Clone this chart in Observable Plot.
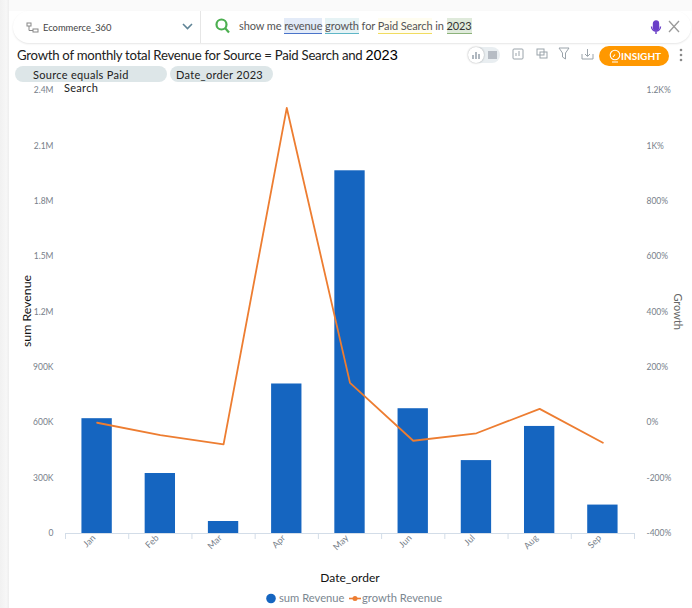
<!DOCTYPE html>
<html>
<head>
<meta charset="utf-8">
<script src="https://cdn.jsdelivr.net/npm/d3@7"></script>
<script src="https://cdn.jsdelivr.net/npm/@observablehq/plot@0.6"></script>
<style>
html,body{margin:0;padding:0;background:#fff;width:692px;height:608px;overflow:hidden;font-family:Lato,sans-serif;}
#page{position:relative;width:692px;height:608px;}
#edge{position:absolute;left:0;top:0;width:9px;height:608px;background:linear-gradient(90deg,#f1f1f1,#f7f7f7 70%,#eeeeee);}
#top{position:absolute;left:9px;top:0;width:683px;height:11px;background:#fafafa;}
#bar{position:absolute;left:13px;top:11px;width:678px;height:32px;background:#fff;border-radius:16px;box-shadow:0 1px 2px rgba(0,0,0,.1);}
#divider{position:absolute;left:200px;top:11px;width:1px;height:32px;background:#e6e6e6;}
.a{position:absolute;white-space:nowrap;}
#ds{left:43px;top:22px;font-size:9.4px;color:#444;}
#caret{left:182px;top:22px;}
#query{left:239px;top:19px;font-size:11px;letter-spacing:-.1px;color:#555;}
#query span{padding:1px 0;}
#title{left:17px;top:47px;font-size:13.2px;letter-spacing:-.27px;color:#222;}
#title b{font-weight:400;font-size:14.5px;letter-spacing:0;font-family:"Liberation Sans",sans-serif;color:#000;}
.chip{position:absolute;top:66px;height:16px;background:#dde6e8;border-radius:8px;}
.chiptext{position:absolute;font-size:11px;line-height:11px;letter-spacing:.3px;color:#222;white-space:nowrap;}
#insight{left:599px;top:46px;width:70px;height:20px;background:#ff9800;border-radius:10px;color:#fff;font-size:10px;font-weight:700;line-height:20px;text-indent:22px;}
#toggle{left:468px;top:47px;width:32px;height:16px;background:#e9eef1;border-radius:8px;}
#knob{left:468px;top:47px;width:16px;height:16px;background:#fff;border-radius:8px;box-shadow:0 0 2px rgba(0,0,0,.35);}
#chart{position:absolute;left:0;top:80px;}
#legend{position:absolute;left:0;top:590px;width:692px;height:18px;}
#legend .t{position:absolute;top:1px;font-size:11.2px;color:#7b8791;white-space:nowrap;}
</style>
</head>
<body>
<div id="page">
  <div id="edge"></div><div id="top"></div>
  <div id="bar"></div><div id="divider"></div>
  <svg class="a" style="left:26px;top:22px" width="13" height="12" fill="none" stroke="#888" stroke-width="1"><rect x="1" y="1" width="4" height="3"/><rect x="7" y="7" width="5" height="3"/><path d="M3 4V8.5H7"/></svg>
  <div class="a" id="ds">Ecommerce_360</div>
  <svg class="a" id="caret" width="11" height="9" fill="none" stroke="#5f8496" stroke-width="1.6"><path d="M1 2L5.5 6.5L10 2"/></svg>
  <svg class="a" style="left:215px;top:18px" width="15" height="16" fill="none" stroke="#4caf50" stroke-width="2.2"><circle cx="6.5" cy="6.5" r="5"/><path d="M10 10L14 14.5"/></svg>
  <div class="a" id="query">show me <span style="background:#e3ebf8;border-bottom:1px solid #4a74c9">revenue</span> <span style="background:#e6f3f5;border-bottom:1px solid #5fb6c7">growth</span> for <span style="background:#fffdf0;border-bottom:1px solid #f1dc5f">Paid Search</span> in <span style="background:#dfeadb;border-bottom:1px solid #8cb27a;color:#333">2023</span></div>
  <svg class="a" style="left:649px;top:20px" width="14" height="16" fill="none" stroke="#6a3fc8" stroke-width="1.4"><rect x="4.5" y="1" width="5" height="9" rx="2.5" fill="#6a3fc8"/><path d="M2.5 6.5a4.5 4.5 0 0 0 9 0M7 11v3"/></svg>
  <svg class="a" style="left:668px;top:20px" width="12" height="13" fill="none" stroke="#9a9a9a" stroke-width="1.3"><path d="M1 1L11 12M11 1L1 12"/></svg>
  <div class="a" id="title">Growth of monthly total Revenue for Source = Paid Search and <b>2023</b></div>
  <div class="a" id="toggle"></div><div class="a" id="knob"></div>
  <svg class="a" style="left:472px;top:51px" width="8" height="8" fill="#b0b8c0"><rect x="0" y="4" width="2" height="4"/><rect x="3" y="1" width="2" height="7"/><rect x="6" y="3" width="2" height="5"/></svg>
  <svg class="a" style="left:488px;top:51px" width="9" height="8" fill="#b6bcc4"><rect width="9" height="8"/></svg>
  <svg class="a" style="left:512px;top:48px" width="13" height="13" fill="none" stroke="#9aa3aa"><rect x="1" y="1" width="10" height="10" rx="1"/><path d="M4 8V5M7 8V3"/></svg>
  <svg class="a" style="left:536px;top:48px" width="12" height="12" fill="none" stroke="#9aa3aa"><rect x="1" y="1" width="7" height="6"/><rect x="4" y="4" width="7" height="6"/></svg>
  <svg class="a" style="left:558px;top:47px" width="12" height="13" fill="none" stroke="#9aa3aa"><path d="M1 1H11L7.5 6V12L4.5 10V6Z"/></svg>
  <svg class="a" style="left:581px;top:48px" width="13" height="13" fill="none" stroke="#9aa3aa"><path d="M6.5 1V8M4 6L6.5 8.5L9 6M1 6V11H12V6"/></svg>
  <div class="a" id="insight">INSIGHT</div>
  <svg class="a" style="left:609px;top:49px" width="12" height="15" fill="none" stroke="#fff" stroke-width="1.1"><circle cx="6" cy="6" r="4.8"/><path d="M3 13H9M4 8L6 5.5"/></svg>
  <svg class="a" style="left:678px;top:48px" width="6" height="14" fill="#8a8a8a"><circle cx="3" cy="2" r="1.3"/><circle cx="3" cy="7" r="1.3"/><circle cx="3" cy="12" r="1.3"/></svg>
  <div class="chip" style="left:15px;width:152px"></div>
  <div class="chip" style="left:170px;width:103px"></div>
  <div id="chart"></div>
  <div class="chiptext" style="left:33px;top:68.5px">Source equals Paid</div>
  <div class="chiptext" style="left:176px;top:68.5px">Date_order 2023</div>
  <div class="chiptext" style="left:64px;top:81.8px">Search</div>
  <div id="legend">
    <svg style="position:absolute;left:266px;top:3px" width="12" height="12"><circle cx="5" cy="5.5" r="4.8" fill="#1565c0"/></svg>
    <div class="t" style="left:279px">sum Revenue</div>
    <svg style="position:absolute;left:349px;top:3px" width="12" height="12"><path d="M0 5.5H12" stroke="#ed7d31" stroke-width="1.6"/><circle cx="6" cy="5.5" r="2.5" fill="#ed7d31"/></svg>
    <div class="t" style="left:362px">growth Revenue</div>
  </div>
</div>
<script>
const months = ["Jan","Feb","Mar","Apr","May","Jun","Jul","Aug","Sep"];
const sumRevenue = [622000,325000,65000,810000,1965000,676000,395000,580000,154000];
const growthRevenue = [0,-45,-78,1137,144,-65,-38,50,-72];
const revenueTicks = [0,300000,600000,900000,1200000,1500000,1800000,2100000,2400000];
const revenueLabels = ["0","300K","600K","900K","1.2M","1.5M","1.8M","2.1M","2.4M"];
const growthTicks = [-400,-200,0,200,400,600,800,1000,1200];
const growthLabels = ["-400%","-200%","0%","200%","400%","600%","800%","1K%","1.2K%"];

const toRevenue = d3.scaleLinear().domain([-400,1200]).range([0,2400000]);
const table = months.map((m,i)=>({month:m,revenue:sumRevenue[i],growth:growthRevenue[i]}));
const W=692,H=510,L=65,R=58,T=10,B=57;
const half=(W-L-R)/months.length/2;

const chart = Plot.plot({
  width:W,height:H,marginLeft:L,marginRight:R,marginTop:T,marginBottom:B,
  style:{fontFamily:"Lato,sans-serif",background:"transparent",overflow:"visible"},
  x:{domain:months,paddingInner:0.52,paddingOuter:0.26,round:false,label:null},
  y:{domain:[0,2400000],label:null},
  marks:[
    Plot.barY(table,{x:"month",y:"revenue",fill:"#1565c0"}),
    Plot.ruleY([0],{stroke:"#d3dde8"}),
    Plot.axisX({ticks:months,tickSize:6,text:null,stroke:"#d3dde8",dx:-half,label:null}),
    Plot.axisX({ticks:["Sep"],tickSize:6,text:null,stroke:"#d3dde8",dx:half,label:null}),
    Plot.axisX({tickSize:0,tickRotate:-45,tickPadding:6,fontSize:9,color:"#77808a",label:null,dy:-3,dx:-3}),
    Plot.axisY({ticks:revenueTicks,tickSize:0,tickPadding:12,fontSize:8.5,color:"#77808a",
      tickFormat:v=>revenueLabels[revenueTicks.indexOf(v)],label:null}),
    Plot.axisY({anchor:"right",ticks:growthTicks.map(g=>toRevenue(g)),tickSize:0,tickPadding:12,fontSize:8.5,color:"#77808a",
      tickFormat:v=>growthLabels[growthTicks.map(g=>toRevenue(g)).indexOf(v)],label:null}),
    Plot.lineY(table,{x:"month",y:d=>toRevenue(d.growth),stroke:"#ed7d31",strokeWidth:1.8}),
    Plot.text(["sum Revenue"],{frameAnchor:"left",rotate:-90,dx:-38,dy:35,fontSize:12.3,fill:"#111"}),
    Plot.text(["Growth"],{frameAnchor:"right",rotate:90,dx:43,dy:18,fontSize:11,fill:"#666"}),
    Plot.text(["Date_order"],{frameAnchor:"bottom",dy:48,fontSize:12,fill:"#111"})
  ]
});
document.getElementById("chart").appendChild(chart);
</script>
</body>
</html>
